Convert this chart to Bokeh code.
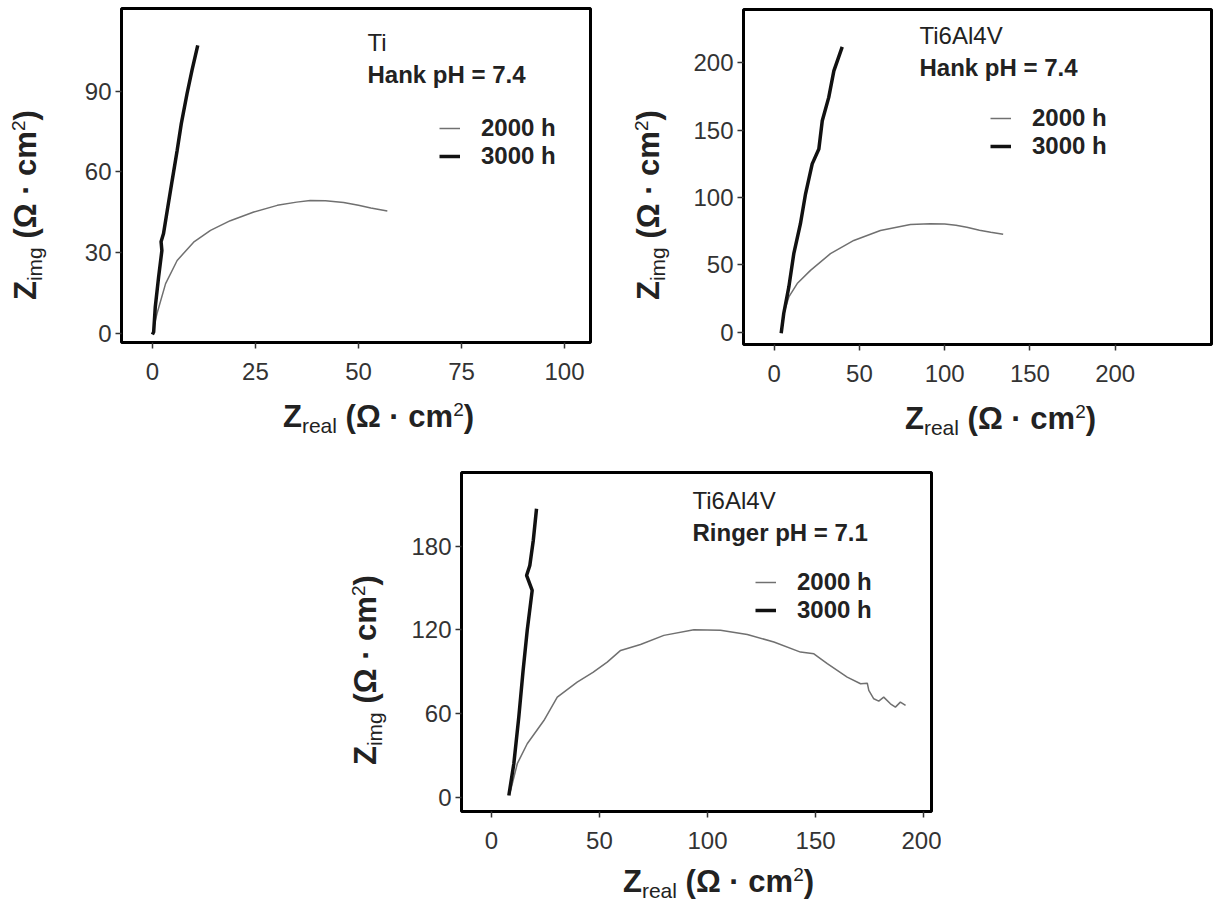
from bokeh.plotting import figure
from bokeh.models import Label, FixedTicker, Range1d, Legend, LegendItem, Spacer, Div
from bokeh.layouts import column, row
from bokeh.embed import file_html
from bokeh.resources import INLINE

FONT = "Liberation Sans"

# ---------------- data ----------------
# Panel 1: Ti, Hank pH = 7.4
ti_hank_2000_x = [0.3, 1.1, 3.2, 6.0, 10.0, 14.1, 18.9, 24.6, 30.3, 35.0, 38.3, 42.0, 46.4, 50.0, 53.0, 57.0]
ti_hank_2000_y = [2.0, 7.2, 18.4, 27.0, 33.8, 38.2, 41.8, 45.0, 47.5, 48.7, 49.3, 49.2, 48.6, 47.5, 46.5, 45.4]
ti_hank_3000_x = [0.0, 0.3, 0.7, 1.5, 2.3, 2.1, 2.7, 3.6, 4.8, 6.0, 7.0, 8.4, 9.6, 11.0]
ti_hank_3000_y = [-0.5, 0.4, 9.8, 20.8, 30.7, 34.0, 37.0, 45.6, 56.8, 67.9, 77.8, 89.0, 97.7, 107.0]

# Panel 2: Ti6Al4V, Hank pH = 7.4
tav_hank_2000_x = [5.6, 8.6, 13.5, 21.3, 33.0, 46.7, 62.3, 79.9, 91.6, 100.0, 106.6, 113.0, 120.4, 127.0, 134.3]
tav_hank_2000_y = [14.0, 26.3, 36.2, 46.0, 58.4, 68.2, 75.6, 80.0, 80.6, 80.3, 79.5, 78.0, 75.8, 74.3, 72.8]
tav_hank_3000_x = [4.1, 5.6, 8.6, 11.5, 15.4, 18.4, 22.3, 26.2, 28.2, 32.0, 35.0, 39.9]
tav_hank_3000_y = [-0.7, 14.0, 33.7, 58.4, 80.6, 102.8, 125.0, 136.0, 157.0, 174.3, 194.0, 211.8]

# Panel 3: Ti6Al4V, Ringer pH = 7.1
tav_ringer_2000_x = [8.9, 12.0, 16.6, 24.3, 30.5, 39.7, 47.0, 53.6, 59.8, 69.0, 79.8, 93.7, 106.0, 118.4,
                     130.7, 143.0, 149.2, 155.4, 164.6, 170.8, 173.9, 174.6, 176.9, 179.2, 181.5, 184.6,
                     186.9, 189.2, 191.6]
tav_ringer_2000_y = [4.8, 24.0, 38.3, 55.0, 71.8, 82.6, 89.5, 96.9, 105.3, 109.6, 116.1, 120.2, 119.7, 116.8,
                     111.3, 104.1, 102.9, 95.8, 86.1, 81.4, 81.8, 76.6, 70.6, 68.9, 71.8, 67.0,
                     64.6, 68.2, 65.8]
tav_ringer_3000_x = [8.1, 10.4, 12.7, 14.7, 16.6, 18.9, 16.3, 17.8, 19.4, 20.9]
tav_ringer_3000_y = [1.2, 24.0, 57.4, 91.0, 119.7, 148.4, 159.1, 166.3, 184.2, 207.0]

series_labels = ["2000 h", "3000 h"]

p1_title = ["Ti", "Hank pH = 7.4"]
p2_title = ["Ti6Al4V", "Hank pH = 7.4"]
p3_title = ["Ti6Al4V", "Ringer pH = 7.1"]

x_label_sub = "real"
y_label_sub = "img"

p1_xticks = [0, 25, 50, 75, 100]
p1_yticks = [0, 30, 60, 90]
p2_xticks = [0, 50, 100, 150, 200]
p2_yticks = [0, 50, 100, 150, 200]
p3_xticks = [0, 50, 100, 150, 200]
p3_yticks = [0, 60, 120, 180]


# ---------------- axis labels as HTML (sub/superscripts) ----------------
def label_div(sub, w, h, left, top, rotate):
    inner = (f'<b style="font-size:31px">Z</b>'
             f'<span style="font-size:21px;position:relative;top:6px;font-weight:normal">{sub}</span>'
             f'<b style="font-size:31px">&nbsp;(\u03a9 \u00b7 cm</b>'
             f'<span style="font-size:19px;position:relative;top:-11px;font-weight:normal">2</span>'
             f'<b style="font-size:31px">)</b>')
    tr = "transform:rotate(-90deg);transform-origin:0 0;" if rotate else ""
    html = (f'<div style="position:relative;width:{w}px;height:{h}px;margin:0;padding:0">'
            f'<div style="position:absolute;left:{left}px;top:{top}px;white-space:nowrap;'
            f'font-family:\'{FONT}\',sans-serif;line-height:30px;color:#222222;{tr}">{inner}</div></div>')
    return Div(text=html, width=w, height=h, margin=0)


def make_panel(xr, yr, fw, fh, borders, xticks, yticks, gx, gy, bx, by, title, title_pos, leg_pos):
    p = figure(frame_width=fw, frame_height=fh,
               x_range=Range1d(*xr), y_range=Range1d(*yr),
               output_backend="svg", toolbar_location=None,
               min_border_left=borders[0], min_border_right=borders[1],
               min_border_top=borders[2], min_border_bottom=borders[3])
    p.background_fill_color = "white"
    p.border_fill_color = "white"
    p.outline_line_color = "black"
    p.outline_line_width = 3
    p.xgrid.visible = False
    p.ygrid.visible = False
    for ax, ticks in ((p.xaxis[0], xticks), (p.yaxis[0], yticks)):
        ax.ticker = FixedTicker(ticks=ticks)
        ax.axis_line_color = None
        ax.minor_tick_line_color = None
        ax.major_tick_out = 6
        ax.major_tick_in = 0
        ax.major_tick_line_color = "#333333"
        ax.major_tick_line_width = 1.5
        ax.major_label_text_font = FONT
        ax.major_label_text_font_size = "24px"
        ax.major_label_text_color = "#333333"
    p.xaxis[0].major_label_standoff = 14
    p.yaxis[0].major_label_standoff = 4

    r_gray = p.line(gx, gy, line_color="#707070", line_width=1.5)
    r_black = p.line(bx, by, line_color="#111111", line_width=3.5)

    def px2d(fx, fy):
        return (xr[0] + fx / fw * (xr[1] - xr[0]), yr[1] - fy / fh * (yr[1] - yr[0]))

    (tx, ty1, ty2) = title_pos
    x, y = px2d(tx, ty1)
    p.add_layout(Label(x=x, y=y, text=title[0], text_font=FONT, text_font_size="24px",
                       text_color="#222222", text_baseline="middle", text_align="left"))
    x, y = px2d(tx, ty2)
    p.add_layout(Label(x=x, y=y, text=title[1], text_font=FONT, text_font_size="24px",
                       text_font_style="bold", text_color="#222222", text_baseline="middle",
                       text_align="left"))

    lx, ly = leg_pos
    legend = Legend(items=[LegendItem(label=series_labels[0], renderers=[r_gray]),
                           LegendItem(label=series_labels[1], renderers=[r_black])],
                    location=(lx, ly), orientation="vertical",
                    label_text_font=FONT, label_text_font_size="24px", label_text_font_style="bold",
                    label_text_color="#222222", glyph_width=21, glyph_height=28, label_height=28,
                    label_standoff=21, spacing=0, padding=0, margin=0,
                    background_fill_alpha=0, border_line_color=None)
    p.add_layout(legend, "center")
    return p


# Row 1
yl1 = label_div(y_label_sub, 68, 463, 11, 300, True)
p1 = make_panel((-7.5, 106.3), (-3.5, 120.7), 469, 334, (53, 10, 8, 50),
                p1_xticks, p1_yticks, ti_hank_2000_x, ti_hank_2000_y, ti_hank_3000_x, ti_hank_3000_y,
                p1_title, (246, 34, 66), (318, 172))
xl1 = label_div(x_label_sub, 532, 71, 215, 9.6, False)

yl2 = label_div(y_label_sub, 90, 463, 33.5, 300, True)
p2 = make_panel((-18.0, 256.5), (-9.0, 239.5), 468, 335, (53, 3, 9, 50),
                p2_xticks, p2_yticks, tav_hank_2000_x, tav_hank_2000_y, tav_hank_3000_x, tav_hank_3000_y,
                p2_title, (176, 26, 58), (247, 184))
xl2 = label_div(x_label_sub, 524, 69, 215, 9.6, False)

# Row 2
yl3 = label_div(y_label_sub, 60, 436, 2.5, 302, True)
p3 = make_panel((-13.8, 203.6), (-10.3, 233.0), 470, 339, (53, 10, 9, 50),
                p3_xticks, p3_yticks, tav_ringer_2000_x, tav_ringer_2000_y, tav_ringer_3000_x, tav_ringer_3000_y,
                p3_title, (231, 28, 60), (294, 187))
xl3 = label_div(x_label_sub, 533, 38, 215, 6.0, False)

layout = column(
    row(yl1, column(p1, xl1), yl2, column(p2, xl2)),
    row(Spacer(width=348, height=10), yl3, column(p3, xl3)),
)

open("out.html", "w").write(file_html(layout, INLINE))
